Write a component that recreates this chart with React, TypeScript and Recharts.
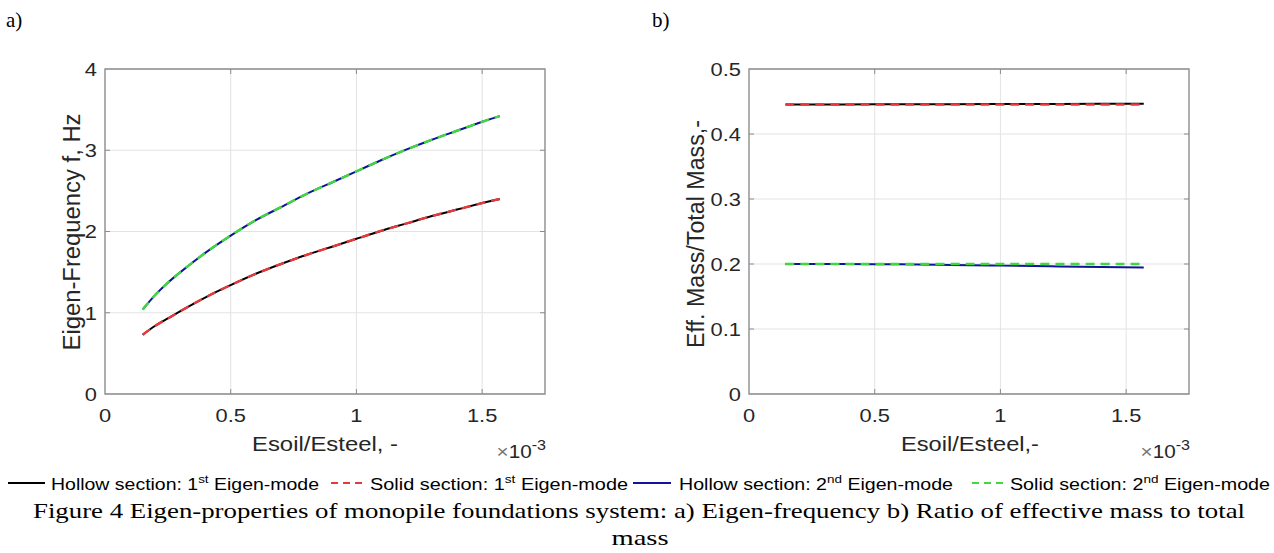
import React from 'react';
import { LineChart, Line, XAxis, YAxis, CartesianGrid, ReferenceLine, ReferenceArea } from 'recharts';

// ---------- data ----------
const xTicks = [0, 0.5, 1, 1.5];
const X_MAX = 1.75;

// panel a) Eigen-frequency
const xLeft = [0.15, 0.2, 0.25, 0.3, 0.4, 0.5, 0.6, 0.7, 0.8, 0.9, 1.0, 1.1, 1.2, 1.3, 1.4, 1.5, 1.57];
const hollow1Freq = [0.73, 0.84, 0.93, 1.02, 1.19, 1.34, 1.48, 1.6, 1.71, 1.81, 1.91, 2.01, 2.1, 2.19, 2.27, 2.35, 2.4];
const solid1Freq = [0.73, 0.84, 0.93, 1.02, 1.19, 1.34, 1.48, 1.6, 1.71, 1.81, 1.91, 2.01, 2.1, 2.19, 2.27, 2.35, 2.4];
const hollow2Freq = [1.04, 1.22, 1.37, 1.5, 1.74, 1.95, 2.14, 2.3, 2.46, 2.6, 2.74, 2.88, 3.01, 3.13, 3.24, 3.35, 3.42];
const solid2Freq = [1.04, 1.22, 1.37, 1.5, 1.74, 1.95, 2.14, 2.3, 2.46, 2.6, 2.74, 2.88, 3.01, 3.13, 3.24, 3.35, 3.42];
const yTicksLeft = [0, 1, 2, 3, 4];
const Y_MAX_LEFT = 4;

// panel b) effective mass ratio
const xRight = [0.145, 0.3, 0.5, 0.6, 0.8, 1.0, 1.2, 1.4, 1.57];
const hollow1Mass = [0.4455, 0.4455, 0.4456, 0.4457, 0.4458, 0.446, 0.4462, 0.4464, 0.4466];
const solid1Mass = [0.4455, 0.4455, 0.4455, 0.4455, 0.4455, 0.4455, 0.4455, 0.4455, 0.4455];
const hollow2Mass = [0.2, 0.2, 0.1998, 0.1995, 0.1985, 0.1975, 0.1965, 0.1955, 0.1945];
const solid2Mass = [0.2, 0.2, 0.2, 0.2, 0.2, 0.2, 0.2, 0.2, 0.2];
const yTicksRight = [0, 0.1, 0.2, 0.3, 0.4, 0.5];
const Y_MAX_RIGHT = 0.5;

// series / legend
const seriesKeys = ['h1', 's1', 'h2', 's2'];
const seriesColors = ['#000000', '#e8383c', '#12129a', '#3fd83f'];
const seriesDashed = [false, true, false, true];
const legendBase = ['Hollow section: 1', 'Solid section: 1', 'Hollow section: 2', 'Solid section: 2'];
const legendSup = ['st', 'st', 'nd', 'nd'];
const legendTail = ' Eigen-mode';

const leftRows = xLeft.map((x, i) => ({ x, h1: hollow1Freq[i], s1: solid1Freq[i], h2: hollow2Freq[i], s2: solid2Freq[i] }));
const rightRows = xRight.map((x, i) => ({ x, h1: hollow1Mass[i], s1: solid1Mass[i], h2: hollow2Mass[i], s2: solid2Mass[i] }));

// ---------- styling ----------
const SANS = '"Liberation Sans", Arial, Helvetica, sans-serif';
const SERIF = '"Times New Roman", "Liberation Serif", Times, serif';
const TXT = '#262626';
const SX = 1.15;
const CH_W = 560;
const CH_H = 460;
const PLOT_W = 440;
const PLOT_H = 325;
const BOX = '#8c8c8c';

const XTick = (props: any) => {
  const { x, y, payload } = props;
  return (
    <g transform={`translate(${x},${y}) scale(${SX},1)`}>
      <text x={0} y={0} dy="0.72em" textAnchor="middle" fontSize={19} style={{ fontFamily: SANS }} fill={TXT}>
        {String(payload.value)}
      </text>
    </g>
  );
};

const YTick = (props: any) => {
  const { x, y, payload } = props;
  return (
    <g transform={`translate(${x},${y}) scale(${SX},1)`}>
      <text x={0} y={0} dy="0.36em" textAnchor="end" fontSize={19} style={{ fontFamily: SANS }} fill={TXT}>
        {String(payload.value)}
      </text>
    </g>
  );
};

function Panel({ rows, yMax, yTicks, margin }: any) {
  const tlx = (X_MAX * 5) / PLOT_W;
  const tly = (yMax * 5) / PLOT_H;
  const innerX = xTicks.filter((t) => t > 0 && t < X_MAX);
  const innerY = yTicks.filter((t: number) => t > 0 && t < yMax);
  return (
    <LineChart width={CH_W} height={CH_H} data={rows} margin={margin}>
      <CartesianGrid stroke="#e3e3e3" strokeWidth={1} />
      <XAxis
        dataKey="x"
        type="number"
        domain={[0, X_MAX]}
        ticks={xTicks}
        tick={XTick}
        tickLine={false}
        axisLine={false}
        tickSize={0}
        tickMargin={14}
        height={30}
        interval={0}
      />
      <YAxis
        type="number"
        domain={[0, yMax]}
        ticks={yTicks}
        tick={YTick}
        tickLine={false}
        axisLine={false}
        tickSize={0}
        tickMargin={8}
        width={60}
        interval={0}
      />
      {innerX.map((t) => (
        <ReferenceLine key={'b' + t} segment={[{ x: t, y: 0 }, { x: t, y: tly }]} stroke={BOX} strokeWidth={1} />
      ))}
      {innerX.map((t) => (
        <ReferenceLine key={'t' + t} segment={[{ x: t, y: yMax }, { x: t, y: yMax - tly }]} stroke={BOX} strokeWidth={1} />
      ))}
      {innerY.map((t: number) => (
        <ReferenceLine key={'l' + t} segment={[{ x: 0, y: t }, { x: tlx, y: t }]} stroke={BOX} strokeWidth={1} />
      ))}
      {innerY.map((t: number) => (
        <ReferenceLine key={'r' + t} segment={[{ x: X_MAX, y: t }, { x: X_MAX - tlx, y: t }]} stroke={BOX} strokeWidth={1} />
      ))}
      {seriesKeys.map((k, i) => (
        <Line
          key={k}
          dataKey={k}
          type="natural"
          stroke={seriesColors[i]}
          strokeWidth={seriesDashed[i] ? 2.4 : 2}
          strokeDasharray={seriesDashed[i] ? '9 6' : undefined}
          dot={false}
          activeDot={false}
          isAnimationActive={false}
        />
      ))}
      <ReferenceArea x1={0} x2={X_MAX} y1={0} y2={yMax} fill="none" fillOpacity={0} stroke={BOX} strokeWidth={1.3} ifOverflow="visible" />
    </LineChart>
  );
}

const legendLayout = [
  { lx1: 8, lx2: 45, tx: 51, tl: 268 },
  { lx1: 331, lx2: 364, tx: 370, tl: 258 },
  { lx1: 633, lx2: 671, tx: 679, tl: 274 },
  { lx1: 972, lx2: 1006, tx: 1010, tl: 260 },
];

function Overlay() {
  return (
    <svg width={1274} height={553} style={{ position: 'absolute', left: 0, top: 0, pointerEvents: 'none' }}>
      {/* panel letters */}
      <text x={6} y={27} fontSize={21} style={{ fontFamily: SERIF }} fill="#000">a)</text>
      <text x={652} y={27} fontSize={21} style={{ fontFamily: SERIF }} fill="#000">b)</text>

      {/* axis titles */}
      <text x={325} y={451} textAnchor="middle" fontSize={20} style={{ fontFamily: SANS }} fill={TXT} textLength={146} lengthAdjust="spacingAndGlyphs">
        Esoil/Esteel, -
      </text>
      <text x={970} y={451} textAnchor="middle" fontSize={20} style={{ fontFamily: SANS }} fill={TXT} textLength={138} lengthAdjust="spacingAndGlyphs">
        Esoil/Esteel,-
      </text>
      <g transform={`translate(72,232) scale(${SX},1) rotate(-90)`}>
        <text x={0} y={0} dy="0.36em" textAnchor="middle" fontSize={20} style={{ fontFamily: SANS }} fill={TXT} textLength={237} lengthAdjust="spacingAndGlyphs">
          Eigen-Frequency f, Hz
        </text>
      </g>
      <g transform={`translate(696,234) scale(${SX},1) rotate(-90)`}>
        <text x={0} y={0} dy="0.36em" textAnchor="middle" fontSize={20} style={{ fontFamily: SANS }} fill={TXT} textLength={228} lengthAdjust="spacingAndGlyphs">
          Eff. Mass/Total Mass,-
        </text>
      </g>

      {/* x10^-3 multipliers */}
      {[546, 1190].map((xe) => (
        <g key={xe} transform={`translate(${xe},458) scale(${SX},1)`}>
          <text x={0} y={0} textAnchor="end" fontSize={18} style={{ fontFamily: SANS }} fill={TXT}>
            <tspan fill="#777">×</tspan>10<tspan dy={-8} fontSize={14}>-3</tspan>
          </text>
        </g>
      ))}

      {/* legend */}
      {legendLayout.map((L, i) => (
        <g key={i}>
          <line
            x1={L.lx1}
            x2={L.lx2}
            y1={483}
            y2={483}
            stroke={seriesColors[i]}
            strokeWidth={2}
            strokeDasharray={seriesDashed[i] ? '7 5' : undefined}
          />
          <text x={L.tx} y={490} fontSize={16} style={{ fontFamily: SANS }} fill="#000" textLength={L.tl} lengthAdjust="spacingAndGlyphs">
            {legendBase[i]}
            <tspan dy={-7} fontSize={11}>{legendSup[i]}</tspan>
            <tspan dy={7}>{legendTail}</tspan>
          </text>
        </g>
      ))}

      {/* caption */}
      <text x={639} y={518} textAnchor="middle" fontSize={22} style={{ fontFamily: SERIF }} fill="#000" textLength={1212} lengthAdjust="spacingAndGlyphs">
        Figure 4 Eigen-properties of monopile foundations system: a) Eigen-frequency b) Ratio of effective mass to total
      </text>
      <text x={640} y={545} textAnchor="middle" fontSize={22} style={{ fontFamily: SERIF }} fill="#000" textLength={57} lengthAdjust="spacingAndGlyphs">
        mass
      </text>
    </svg>
  );
}

export default function App() {
  return (
    <div style={{ position: 'absolute', left: 0, top: 0, width: 1274, height: 553, background: '#fff', overflow: 'hidden' }}>
      <div style={{ position: 'absolute', left: 0, top: 0 }}>
        <Panel rows={leftRows} yMax={Y_MAX_LEFT} yTicks={yTicksLeft} margin={{ top: 69, right: 15, bottom: 36, left: 45 }} />
      </div>
      <div style={{ position: 'absolute', left: 640, top: 0 }}>
        <Panel rows={rightRows} yMax={Y_MAX_RIGHT} yTicks={yTicksRight} margin={{ top: 69, right: 11, bottom: 36, left: 49 }} />
      </div>
      <Overlay />
    </div>
  );
}
